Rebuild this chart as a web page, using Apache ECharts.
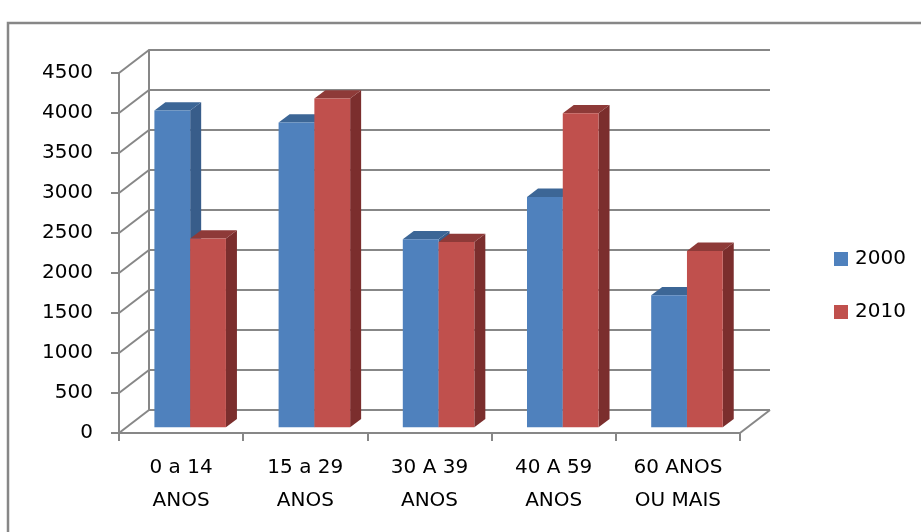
<!DOCTYPE html>
<html>
<head>
    <meta charset="UTF-8"/>
    <script src="https://cdn.jsdelivr.net/npm/echarts@6/dist/echarts.min.js"></script>
    <title>População por faixa etária</title>
    <style>
        html, body {margin: 0; padding: 0; background: #fff;}
        #main {width: 921px; height: 532px;}
    </style>
</head>
<body>
<div id="main"></div>
<script type="text/javascript">
    // dados
    var categorias = ['0 a 14\nANOS', '15 a 29\nANOS', '30 A 39\nANOS', '40 A 59\nANOS', '60 ANOS\nOU MAIS'];
    var anos = ['2000', '2010'];
    var valores2000 = [3960, 3810, 2350, 2880, 1650];
    var valores2010 = [2360, 4110, 2315, 3925, 2205];
    var yTicks = [0, 500, 1000, 1500, 2000, 2500, 3000, 3500, 4000, 4500];

    // profundidade do "3D"
    var DX = 30, DY = -23;
    var cores = [
        {front: '#4F81BD', top: '#3C6696', side: '#385D8A'},
        {front: '#C0504D', top: '#8E3A38', side: '#7B2E2D'}
    ];
    var fonte = 'DejaVu Sans';

    function barra3d(s) {
        return function (params, api) {
            var idx = api.value(0), val = api.value(1);
            var p0 = api.coord([idx, 0]);
            var p1 = api.coord([idx, val]);
            var band = api.size([1, 0])[0];
            var w = band * 0.288;
            var x0 = p0[0] - band * 0.215 + s * w;
            var bot = p0[1] - 5.7, top = p1[1] - 5.7;
            var bx = 11, by = -8.3;
            var c = cores[s];
            return {
                type: 'group',
                children: [
                    {type: 'polygon', shape: {points: [[x0 + w, top], [x0 + w + bx, top + by], [x0 + w + bx, bot + by], [x0 + w, bot]]}, style: {fill: c.side}},
                    {type: 'polygon', shape: {points: [[x0, top], [x0 + w, top], [x0 + w + bx, top + by], [x0 + bx, top + by]]}, style: {fill: c.top}},
                    {type: 'rect', shape: {x: x0, y: top, width: w, height: bot - top}, style: {fill: c.front}}
                ]
            };
        };
    }

    function diagonais(params, api) {
        var cs = params.coordSys;
        var v = api.value(0);
        var y = api.coord([0, v])[1];
        var kids = [{
            type: 'line',
            shape: {x1: cs.x, y1: y, x2: cs.x + DX, y2: y + DY},
            style: {stroke: '#878787', lineWidth: 2}
        }];
        if (v === 0) {
            kids.push({
                type: 'line',
                shape: {x1: cs.x + cs.width, y1: y, x2: cs.x + cs.width + DX, y2: y + DY},
                style: {stroke: '#878787', lineWidth: 2}
            });
        }
        return {type: 'group', children: kids};
    }

    var myChart = echarts.init(document.getElementById('main'));

    var option = {
        backgroundColor: '#fff',
        animation: false,
        textStyle: {fontFamily: fonte},
        graphic: [{
            type: 'rect',
            shape: {x: 8, y: 23, width: 940, height: 540},
            style: {fill: null, stroke: '#878787', lineWidth: 2.5},
            silent: true
        }],
        legend: {
            orient: 'vertical',
            left: 829,
            top: 244,
            itemWidth: 14,
            itemHeight: 14,
            itemGap: 33,
            icon: 'rect',
            data: anos,
            textStyle: {fontSize: 20, color: '#000', fontFamily: fonte, padding: [0, 0, 0, 2]}
        },
        grid: [
            {left: 119, top: 73, width: 621, height: 360},
            {left: 149, top: 50, width: 621, height: 360}
        ],
        xAxis: [
            {
                type: 'category', gridIndex: 0, data: categorias,
                axisLine: {show: true, lineStyle: {color: '#878787', width: 2}},
                axisTick: {show: true, length: 8, lineStyle: {color: '#878787', width: 2}},
                axisLabel: {color: '#000', fontSize: 20, lineHeight: 33, margin: 18, interval: 0, fontFamily: fonte},
                splitLine: {show: false}
            },
            {
                type: 'category', gridIndex: 1, data: categorias,
                axisLine: {show: false}, axisTick: {show: false}, axisLabel: {show: false},
                splitLine: {show: false}
            }
        ],
        yAxis: [
            {
                type: 'value', gridIndex: 0, min: 0, max: 4500, interval: 500,
                axisLine: {show: true, lineStyle: {color: '#878787', width: 2}},
                axisTick: {show: true, length: 8, lineStyle: {color: '#878787', width: 2}},
                axisLabel: {
                    color: '#000', fontSize: 20, margin: 26, fontFamily: fonte,
                    formatter: function (v) { return String(v); }
                },
                splitLine: {show: false}
            },
            {
                type: 'value', gridIndex: 1, min: 0, max: 4500, interval: 500,
                axisLine: {show: true, lineStyle: {color: '#878787', width: 2}},
                axisTick: {show: false}, axisLabel: {show: false},
                splitLine: {show: true, lineStyle: {color: '#878787', width: 2}}
            }
        ],
        series: [
            {
                type: 'custom', name: 'grade', xAxisIndex: 0, yAxisIndex: 0,
                renderItem: diagonais,
                data: yTicks.map(function (v) { return [v]; }),
                encode: {y: 0},
                silent: true, z: 1
            },
            {
                type: 'custom', name: anos[0], xAxisIndex: 0, yAxisIndex: 0,
                renderItem: barra3d(0),
                itemStyle: {color: cores[0].front},
                data: valores2000.map(function (v, i) { return [i, v]; }),
                encode: {x: 0, y: 1}, z: 3
            },
            {
                type: 'custom', name: anos[1], xAxisIndex: 0, yAxisIndex: 0,
                renderItem: barra3d(1),
                itemStyle: {color: cores[1].front},
                data: valores2010.map(function (v, i) { return [i, v]; }),
                encode: {x: 0, y: 1}, z: 4
            }
        ]
    };

    myChart.setOption(option);
</script>
</body>
</html>
